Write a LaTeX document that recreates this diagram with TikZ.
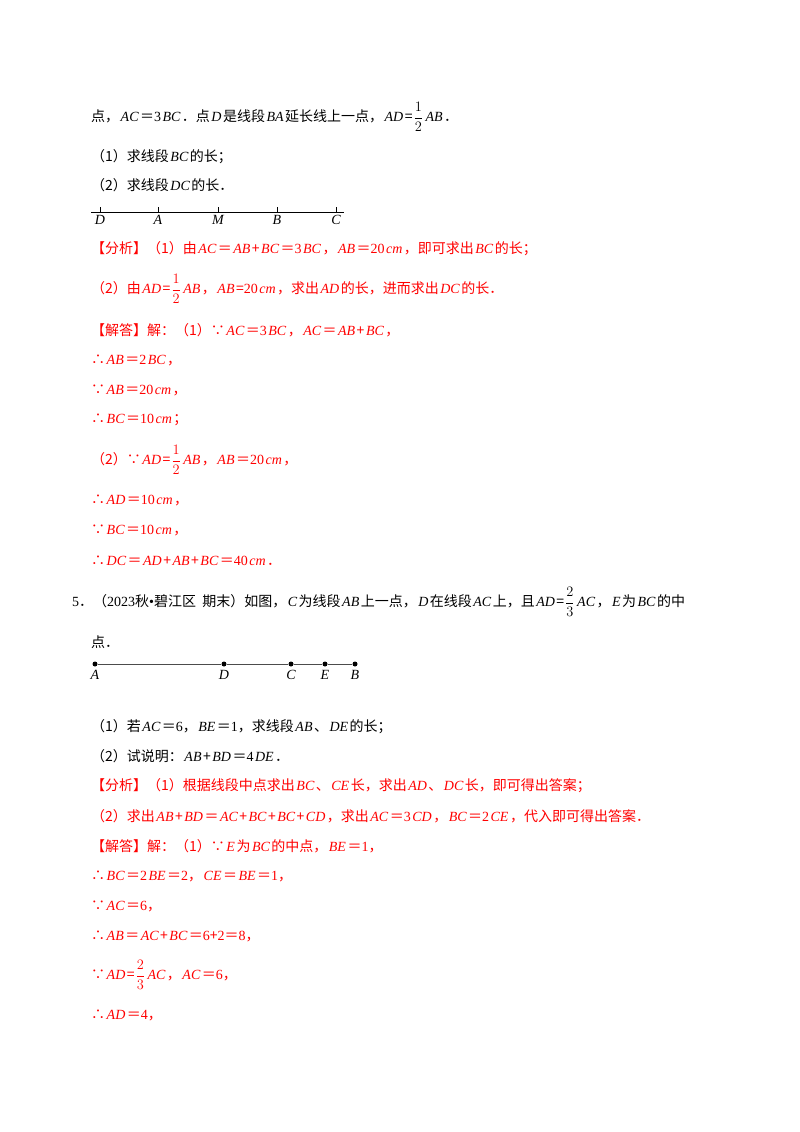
\documentclass[tikz,border=0pt]{standalone}
\usepackage{amsmath}
\usepackage{fontspec}
\setmainfont{Liberation Serif}
\newfontfamily\cjk{Noto Sans CJK SC}
\newcommand\vv[1]{\kern1.5pt{\rmfamily\itshape #1}\kern1.5pt}
\newcommand\nn[1]{{\rmfamily #1}}
\newcommand\hf{\kern1pt\ensuremath{\dfrac{1}{2}}\kern1pt}
\newcommand\twothd{\kern1pt\ensuremath{\dfrac{2}{3}}\kern1pt}
\definecolor{ans}{RGB}{255,0,0}
\begin{document}
\begin{tikzpicture}[x=1pt,y=-1pt,
  tx/.style={anchor=west,inner sep=0pt,font=\fontsize{14}{16}\selectfont\cjk},
  rd/.style={tx,text=ans},
  lbl/.style={inner sep=0pt,font=\fontsize{14}{15}\selectfont\rmfamily\itshape},
  dot/.style={circle,fill=black,inner sep=0pt,minimum size=5pt}]
\useasboundingbox (0,0) rectangle (800,1132);
\node[tx] (l1) at (91,117) {点，\vv{AC}＝\nn{3}\vv{BC}．点\vv{D}是线段\vv{BA}延长线上一点，\vv{AD}=\hf\vv{AB}．};
\node[tx] (l2) at (91,157) {（1）求线段\vv{BC}的长；};
\node[tx] (l3) at (91,185) {（2）求线段\vv{DC}的长．};
% diagram 1
\coordinate (s1) at (91,212); \coordinate (e1) at (344,212);
\draw[line width=0.9pt] (s1) -- (e1);
\foreach \x/\n in {100/D,158/A,218/M,277/B,336/C}{
  \coordinate (t\n) at (\x,212);
  \draw[line width=0.8pt] (t\n) -- ++(0,-5);
  \node[lbl,below=3pt] (lab\n) at (t\n) {\n};}
\node[rd] (a1) at (91,249) {【分析】（1）由\vv{AC}＝\vv{AB}+\vv{BC}＝\nn{3}\vv{BC}，\vv{AB}＝\nn{20}\vv{cm}，即可求出\vv{BC}的长；};
\node[rd] (a2) at (91,289) {（2）由\vv{AD}=\hf\vv{AB}，\vv{AB}=\nn{20}\vv{cm}，求出\vv{AD}的长，进而求出\vv{DC}的长．};
\node[rd] (a3) at (91,330) {【解答】解：（1）∵\vv{AC}＝\nn{3}\vv{BC}，\vv{AC}＝\vv{AB}+\vv{BC}，};
\node[rd] (a4) at (91,360) {∴\vv{AB}＝\nn{2}\vv{BC}，};
\node[rd] (a5) at (91,390) {∵\vv{AB}＝\nn{20}\vv{cm}，};
\node[rd] (a6) at (91,420) {∴\vv{BC}＝\nn{10}\vv{cm}；};
\node[rd] (a7) at (91,460) {（2）∵\vv{AD}=\hf\vv{AB}，\vv{AB}＝\nn{20}\vv{cm}，};
\node[rd] (a8) at (91,500) {∴\vv{AD}＝\nn{10}\vv{cm}，};
\node[rd] (a9) at (91,530) {∵\vv{BC}＝\nn{10}\vv{cm}，};
\node[rd] (a10) at (91,561) {∴\vv{DC}＝\vv{AD}+\vv{AB}+\vv{BC}＝\nn{40}\vv{cm}．};
\node[tx] (q5) at (72,602) {\nn{5}．（\nn{2023}秋\nn{•}碧江区\ \ 期末）如图，\vv{C}为线段\vv{AB}上一点，\vv{D}在线段\vv{AC}上，且\vv{AD}=\twothd\vv{AC}，\vv{E}为\vv{BC}的中};
\node[tx] (q5b) at (91,642) {点．};
% diagram 2
\foreach \x/\n in {95/A,224/D,291/C,325/E,355/B}{
  \node[dot] (p\n) at (\x,664) {};
  \node[lbl,below=6pt] (m\n) at (p\n) {\n};}
\draw[line width=0.9pt,black!70] (pA) -- (pD) -- (pC) -- (pE) -- (pB);
\node[tx] (b1) at (91,727) {（1）若\vv{AC}＝\nn{6}，\vv{BE}＝\nn{1}，求线段\vv{AB}、\vv{DE}的长；};
\node[tx] (b2) at (91,756) {（2）试说明：\vv{AB}+\vv{BD}＝\nn{4}\vv{DE}．};
\node[rd] (c1) at (91,786) {【分析】（1）根据线段中点求出\vv{BC}、\vv{CE}长，求出\vv{AD}、\vv{DC}长，即可得出答案；};
\node[rd] (c2) at (91,816) {（2）求出\vv{AB}+\vv{BD}＝\vv{AC}+\vv{BC}+\vv{BC}+\vv{CD}，求出\vv{AC}＝\nn{3}\vv{CD}，\vv{BC}＝\nn{2}\vv{CE}，代入即可得出答案．};
\node[rd] (c3) at (91,846) {【解答】解：（1）∵\vv{E}为\vv{BC}的中点，\vv{BE}＝\nn{1}，};
\node[rd] (c4) at (91,876) {∴\vv{BC}＝\nn{2}\vv{BE}＝\nn{2}，\vv{CE}＝\vv{BE}＝\nn{1}，};
\node[rd] (c5) at (91,906) {∵\vv{AC}＝\nn{6}，};
\node[rd] (c6) at (91,936) {∴\vv{AB}＝\vv{AC}+\vv{BC}＝\nn{6}+\nn{2}＝\nn{8}，};
\node[rd] (c7) at (91,975) {∵\vv{AD}=\twothd\vv{AC}，\vv{AC}＝\nn{6}，};
\node[rd] (c8) at (91,1015) {∴\vv{AD}＝\nn{4}，};
\end{tikzpicture}
\end{document}
